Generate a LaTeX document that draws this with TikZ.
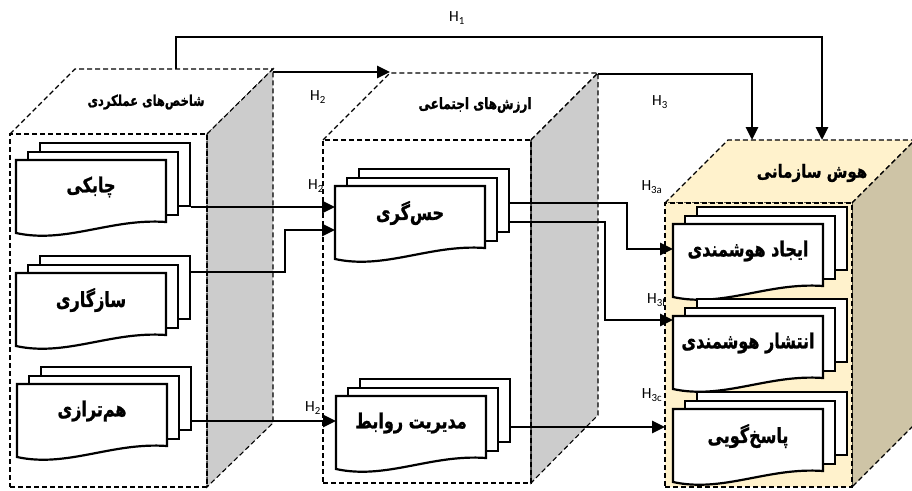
\documentclass[tikz,border=0pt]{standalone}
\usepackage{fontspec}
\usepackage{graphicx}
\setmainfont{Carlito}
\newfontfamily\arabicfont[Script=Arabic,BoldFeatures={FakeBold=1.2}]{DejaVu Sans}
\TeXXeTstate=1
\usetikzlibrary{arrows.meta,calc}
\definecolor{greyface}{RGB}{204,204,204}
\definecolor{beigeface}{RGB}{255,242,204}
\definecolor{tanface}{RGB}{206,196,166}
\newcommand\stackdoc[4]{%
  \draw[doc] (#2+24,#3-17) rectangle (#2+174,#3+46);
  \draw[doc] (#2+12,#3-8) rectangle (#2+162,#3+55);
  \draw[doc] (#2,#3) -- (#2+150,#3) -- (#2+150,#3+62) .. controls (#2+95,#3+58) and (#2+50,#3+84) .. (#2,#3+73) -- cycle;
  \node[inner sep=0pt,outer sep=0pt,anchor=north west,minimum width=150pt,minimum height=62pt] (#1) at (#2,#3) {};
  \node[doctext] (#1-t) at (#2+75,#3+27) {\scalebox{1}[1.3]{#4}};
}
\begin{document}
\begin{tikzpicture}[x=1pt,y=-1pt,
  boxline/.style={draw=black,dash pattern=on 5pt off 3pt,line width=1.1pt},
  doc/.style={draw=black,line width=2.2pt,fill=white},
  conn/.style={draw=black,line width=2.9pt,-{Triangle[length=13pt,width=12pt]}},
  hlab/.style={font=\fontsize{15.5}{17}\selectfont,inner sep=0pt},
  boxtitle/.style={font=\arabicfont\bfseries\fontsize{#1}{15}\selectfont,inner sep=0pt},
  doctext/.style={font=\arabicfont\bfseries\fontsize{16}{20}\selectfont,inner sep=0pt},
  face/.style={boxline,inner sep=0pt,outer sep=0pt,anchor=north west}]
\useasboundingbox (0,0) rectangle (912,490);
% box 1
\draw[boxline] (10,134) -- (75,69) -- (273,69) -- (207,134);
\draw[boxline,fill=greyface] (207,134) -- (273,69) -- (273,423) -- (207,487) -- cycle;
\node[face,minimum width=197pt,minimum height=353pt] (b1) at (10,134) {};
% box 2
\draw[boxline] (323,140) -- (390,73) -- (598,73) -- (531,140);
\draw[boxline,fill=greyface] (531,140) -- (598,73) -- (598,415) -- (531,483) -- cycle;
\node[face,minimum width=208pt,minimum height=343pt] (b2) at (323,140) {};
% labels
\node[hlab] (lh1) at (457,18) {H\textsubscript{1}};
\node[hlab] (lh2) at (318,97) {H\textsubscript{2}};
\node[hlab] (lh3) at (660,102) {H\textsubscript{3}};
\node[hlab] (lh2a) at (316,186) {H\textsubscript{2}};
\node[hlab] (lh3a) at (652,187) {H\textsubscript{3a}};
\node[hlab,anchor=west] (lh3b) at (647,300) {H\textsubscript{3b}};
\node[hlab] (lh2c) at (313,408) {H\textsubscript{2}};
\node[hlab] (lh3c) at (652,395) {H\textsubscript{3c}};
% box 3
\draw[boxline,fill=beigeface] (665,203) -- (728,140) -- (915,140) -- (852,203) -- cycle;
\draw[boxline,fill=tanface] (852,203) -- (915,140) -- (915,424) -- (852,487) -- cycle;
\node[face,fill=beigeface,minimum width=187pt,minimum height=284pt] (b3) at (665,203) {};
% titles
\node[boxtitle=11.5] (t1) at (146,102) {\scalebox{1}[1.3]{\beginR شاخص^^^^200cهای عملکردی\endR}};
\node[boxtitle=12] (t2) at (475,105) {\scalebox{1}[1.3]{\beginR ارزش^^^^200cهای اجتماعی\endR}};
\node[boxtitle=15] (t3) at (812,173) {\scalebox{1}[1.2]{\beginR هوش سازمانی\endR}};
% documents
\stackdoc{chab}{16}{160}{\beginR چابکی\endR}
\stackdoc{saz}{16}{273}{\beginR سازگاری\endR}
\stackdoc{ham}{17}{384}{\beginR هم^^^^200cترازی\endR}
\stackdoc{hes}{335}{186}{\beginR حس^^^^200cگری\endR}
\stackdoc{mod}{336}{396}{\beginR مدیریت روابط\endR}
\stackdoc{ijad}{673}{224}{\beginR ایجاد هوشمندی\endR}
\stackdoc{ent}{673}{316}{\beginR انتشار هوشمندی\endR}
\stackdoc{pas}{673}{409}{\beginR پاسخ^^^^200cگویی\endR}
% top connectors
\coordinate (h1s) at (176,69);
\coordinate (h1e) at (822,140);
\coordinate (h2s) at (273,72);
\coordinate (h2e) at (390,72);
\coordinate (h3s) at (598,74);
\coordinate (h3e) at (752,140);
\draw[conn] (h1s) |- ($(h1e)+(0,-103)$) -- (h1e);
\draw[conn] (h2s) -- (h2e);
\draw[conn] (h3s) -| (h3e);
% document connectors
\draw[conn] ($(chab.north east)+(25,47)$) -- ($(hes.north west)+(0,21)$);
\draw[conn] ($(saz.north east)+(25,-1)$) -| ($(hes.north west)+(-50,44)$) -- ($(hes.north west)+(0,44)$);
\draw[conn] ($(ham.north east)+(25,37)$) -- ($(mod.north west)+(0,25)$);
\draw[conn] ($(hes.north east)+(25,17)$) -| ($(ijad.north west)+(-46,25)$) -- ($(ijad.north west)+(0,25)$);
\draw[conn] ($(hes.north east)+(25,36)$) -| ($(ent.north west)+(-68,4)$) -- ($(ent.north west)+(0,4)$);
\coordinate (m6) at ($(mod.north east)+(25,31)$);
\draw[conn] (m6) -- (m6 -| b3.west);
\end{tikzpicture}
\end{document}
